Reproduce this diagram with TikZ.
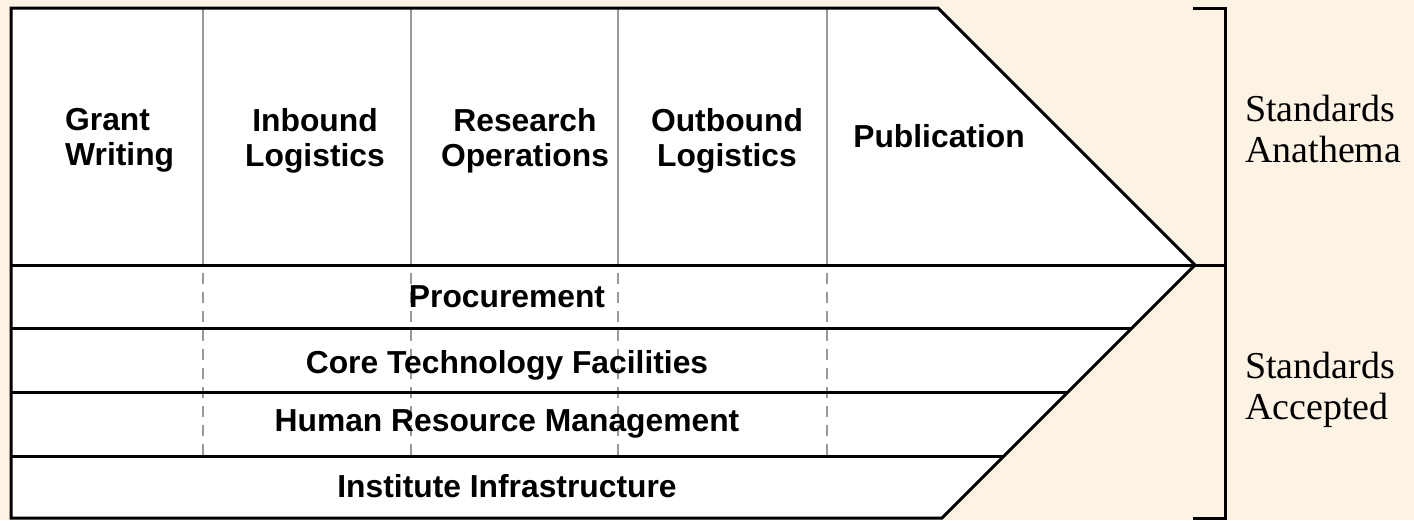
\documentclass[tikz,border=0pt]{standalone}
\usepackage{fontspec}
\setmainfont{Liberation Serif}
\setsansfont{Liberation Sans}
\definecolor{bg}{HTML}{FDF3E4}
\definecolor{gridgray}{HTML}{999999}
\begin{document}
\begin{tikzpicture}[x=1pt,y=-1pt,
  outline/.style={line width=3pt, black, line join=miter},
  divider/.style={line width=2.5pt, gridgray},
  dividerdash/.style={divider, dash pattern=on 11pt off 8pt, dash phase=11pt},
  labelfont/.style={font=\sffamily\bfseries\fontsize{31.8}{35}\selectfont, inner sep=0pt},
  collabel/.style={labelfont, align=center, anchor=north},
  rowlabel/.style={labelfont, anchor=base},
  sidelabel/.style={font=\rmfamily\fontsize{38}{41}\selectfont, align=left, inner sep=0pt, anchor=north west}]
\fill[bg] (0,0) rectangle (1414,520);
\useasboundingbox (0,0) rectangle (1414,520);
% key points
\coordinate (TL) at (11,8);
\coordinate (TR) at (938,8);
\coordinate (tip) at (1195,265);
\coordinate (BR) at (942,518);
\coordinate (BL) at (11,518);
\fill[white] (TL) -- (TR) -- (tip) -- (BR) -- (BL) -- cycle;
% column dividers
\foreach \x in {203,411,618,827} {
  \draw[divider] (\x,8) -- (\x,265);
  \draw[dividerdash] (\x,265) -- (\x,456);
}
% row dividers
\coordinate (bracketmid) at (1225,265);
\draw[outline] (11,265) -- (bracketmid);
\draw[outline] (11,328) -- (1132,328);
\draw[outline] (11,392) -- (1068,392);
\draw[outline] (11,456) -- (1004,456);
% outline of the chain
\draw[outline] (TL) -- (TR) -- (tip) -- (BR) -- (BL) -- cycle;
% bracket
\coordinate (bt1) at (1193,8);
\coordinate (bt2) at (1225,8);
\coordinate (bb2) at (1225,518);
\coordinate (bb1) at (1193,518);
\draw[outline] (bt1) -- (bt2) -- (bb2) -- (bb1);
% primary activities
\node[collabel, align=left, anchor=north west] (gw) at (65,108) {Grant\\Writing};
\node[collabel] (il) at (315,108) {Inbound\\Logistics};
\node[collabel] (ro) at (525,108) {Research\\Operations};
\node[collabel] (ol) at (727,108) {Outbound\\Logistics};
\node[rowlabel] (pub) at (939,147) {Publication};
% support activities
\node[rowlabel] (proc) at (507,307) {Procurement};
\node[rowlabel] (ctf) at (507,373) {Core Technology Facilities};
\node[rowlabel] (hrm) at (507,431) {Human Resource Management};
\node[rowlabel] (ii) at (507,497) {Institute Infrastructure};
% side labels
\node[sidelabel] (sa) at (1245,95) {Standards\\Anathema};
\node[sidelabel] (sc) at (1245,352) {Standards\\Accepted};
\end{tikzpicture}
\end{document}
